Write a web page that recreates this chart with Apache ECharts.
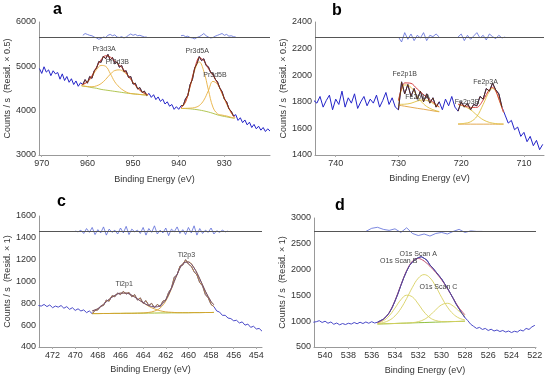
<!DOCTYPE html>
<html><head><meta charset="utf-8">
<script src="https://cdn.jsdelivr.net/npm/echarts@6/dist/echarts.min.js"></script>
<style>html,body{margin:0;padding:0;background:#fff}#c{width:550px;height:378px}</style>
</head><body><div id="c"></div>
<script>
// ================= DATA =================
// ---- Panel a : Pr 3d ----
const aRawStart = 970.5, aRawStep = 0.5;
const aRaw = [
4950, 4840, 4990, 4870, 4920, 4790, 4900, 4830, 4860, 4710,
4830, 4680, 4770, 4640, 4720, 4590, 4670, 4550, 4630, 4590,
4700, 4620, 4770, 4730, 4900, 4960, 5110, 5090, 5230, 5170,
5270, 5140, 5200, 5060, 5100, 4980, 5020, 4880, 4900, 4750,
4770, 4600, 4620, 4490, 4520, 4410, 4440, 4340, 4390, 4300,
4360, 4250, 4310, 4210, 4260, 4150, 4200, 4100, 4140, 4030,
4090, 4030, 4110, 4120, 4270, 4340, 4590, 4700, 4960, 5060,
5220, 5130, 5170, 5020, 4990, 4860, 4840, 4710, 4650, 4510,
4430, 4260, 4200, 4040, 3990, 3880, 3910, 3780, 3840, 3730,
3790, 3680, 3740, 3620, 3690, 3590, 3650, 3560, 3620, 3530,
3590, 3540];
const aFitRanges = [[961.25, 946.75], [939.5, 927.75]];
const aFit1E    = [961.25, 960, 959, 958, 957, 956, 955, 954, 953, 952, 951, 950, 949, 948, 946.75];
const aFit1Base = [4560, 4540, 4520, 4505, 4480, 4465, 4450, 4435, 4420, 4405, 4390, 4380, 4370, 4360, 4350];
const aPr3d3A   = [4580, 4645, 4770, 4925, 5020, 5000, 4840, 4650, 4530, 4450, 4400, 4380, 4370, 4360, 4350];
const aPr3d3B   = [4560, 4545, 4540, 4560, 4610, 4705, 4820, 4905, 4920, 4875, 4770, 4640, 4510, 4420, 4360];
const aFit1Env  = [4580, 4650, 4790, 4980, 5150, 5240, 5210, 5120, 5030, 4920, 4780, 4640, 4510, 4420, 4360];
const aFit2E    = [939.5, 938.5, 937.5, 936.5, 935.5, 934.5, 933.5, 932.5, 931.5, 930.5, 929.5, 928.5, 927.75];
const aFit2Base = [4050, 4048, 4042, 4030, 4015, 3995, 3970, 3940, 3905, 3880, 3860, 3840, 3830];
const aPr3d5A   = [4060, 4195, 4535, 4910, 5100, 4890, 4470, 4080, 3930, 3900, 3880, 3850, 3830];
const aPr3d5B   = [4050, 4053, 4057, 4070, 4115, 4235, 4450, 4660, 4595, 4380, 4150, 3950, 3850];
const aFit2Env  = [4060, 4200, 4550, 4950, 5200, 5130, 4950, 4800, 4620, 4400, 4170, 3960, 3850];
const aResBase = 5662;
const aRes1Start = 961.0, aRes1Step = 0.5;
const aRes1 = [5700, 5740, 5720, 5700, 5690, 5660, 5640, 5610, 5630, 5660,
               5650, 5700, 5720, 5690, 5710, 5660, 5650, 5670, 5640, 5660,
               5700, 5730, 5700, 5720, 5690, 5700, 5680, 5660, 5662];
const aRes2Start = 939.5, aRes2Step = 0.5;
const aRes2 = [5690, 5700, 5670, 5680, 5650, 5640, 5620, 5650, 5670, 5700,
               5740, 5690, 5660, 5640, 5650, 5680, 5700, 5720, 5740, 5700,
               5720, 5680, 5690, 5670, 5662];

// ---- Panel b : Fe 2p ----
const bRawStart = 743.5, bRawStep = 0.5;
const bRaw = [1810,
1790, 1840, 1760, 1810, 1850, 1740, 1820, 1780, 1880, 1760,
1830, 1790, 1860, 1750, 1800, 1840, 1770, 1820, 1790, 1850,
1760, 1810, 1870, 1780, 1830, 1760, 1740, 1950, 1860, 1930,
1840, 1900, 1820, 1880, 1800, 1860, 1790, 1830, 1760, 1800,
1740, 1820, 1770, 1840, 1760, 1730, 1800, 1760, 1790, 1740,
1780, 1770, 1840, 1820, 1900, 1880, 1940, 1890, 1860, 1760,
1700, 1640, 1660, 1590, 1610, 1540, 1570, 1500, 1540, 1470,
1510, 1440, 1480];
const bFitRanges = [[730, 723.5], [720.5, 713.25]];
const bFit1E    = [730, 729.5, 729, 728, 727, 726, 725, 724, 723.5];
const bFit1Base = [1775, 1771, 1767, 1759, 1751, 1744, 1736, 1728, 1725];
const bFe2p1B   = [1805, 1891, 1927, 1909, 1841, 1784, 1751, 1733, 1727];
const bFe2p1A   = [1780, 1781, 1782, 1789, 1806, 1814, 1801, 1773, 1760];
const bFit1Env  = [1810, 1901, 1942, 1939, 1896, 1854, 1816, 1778, 1762];
const bFit2E    = [720.5, 719.5, 718.5, 717.5, 716.5, 715.5, 715, 714.5, 714, 713.25];
const bFit2Base = [1632, 1632, 1632, 1632, 1632, 1632, 1632, 1632, 1632, 1632];
const bFe2p3B   = [1780, 1765, 1740, 1700, 1665, 1645, 1640, 1636, 1634, 1633];
const bFe2p3A   = [1634, 1638, 1650, 1690, 1780, 1880, 1900, 1880, 1820, 1720];
const bFit2Env  = [1782, 1771, 1758, 1758, 1813, 1893, 1908, 1884, 1822, 1721];
const bResBase = 2287;
const bRes1Start = 730, bRes1Step = 0.5;
const bRes1 = [2287, 2250, 2320, 2270, 2310, 2260, 2300, 2280, 2320, 2260, 2300, 2290, 2310, 2287];
const bRes2Start = 720.5, bRes2Step = 0.5;
const bRes2 = [2287, 2310, 2260, 2300, 2270, 2295, 2320, 2280, 2300, 2265, 2310, 2290, 2275, 2300, 2280, 2287];

// ---- Panel c : Ti 2p ----
const cRawStart = 473.25, cRawStep = 0.25;
const cRaw = [780,
775, 790, 770, 785, 760, 775, 765, 780, 755, 770,
745, 760, 735, 750, 730, 740, 715, 730, 705, 735,
740, 775, 780, 830, 820, 870, 860, 895, 880, 910,
885, 900, 860, 880, 830, 850, 800, 825, 780, 800,
760, 790, 770, 820, 830, 900, 940, 1040, 1060, 1140,
1150, 1200, 1160, 1140, 1090, 1060, 990, 960, 880, 850,
790, 770, 730, 720, 690, 690, 665, 660, 640, 645,
620, 630, 600, 610, 580, 590, 565, 570, 545];
const cFitRanges = [[468.5, 457.75]];
const cFitE    = [468.5, 468, 467.5, 467, 466.5, 466, 465.5, 465, 464.5, 464, 463.5, 463, 462.5, 462, 461.5, 461, 460.5, 460, 459.5, 459, 458.5, 458, 457.75];
const cFitBase = [706, 706, 707, 707, 708, 708, 709, 709, 710, 710, 711, 711, 712, 712, 713, 713, 714, 714, 715, 715, 716, 716, 717];
const cTi2p1   = [731, 751, 792, 837, 873, 893, 894, 874, 840, 805, 773, 749, 732, 722, 718, 715, 714, 714, 715, 715, 716, 716, 717];
const cTi2p3   = [706, 706, 707, 707, 708, 708, 709, 709, 710, 712, 717, 729, 757, 822, 933, 1063, 1164, 1179, 1125, 1025, 911, 816, 787];
const cFitEnv  = [731, 751, 792, 837, 873, 893, 894, 874, 840, 807, 779, 767, 777, 832, 938, 1065, 1164, 1179, 1125, 1025, 911, 816, 787];
const cResBase = 1462;
const cResStart = 470, cResStep = 0.25;
const cRes = [1462, 1455, 1470, 1440, 1485, 1450, 1495, 1430, 1475, 1445,
              1500, 1425, 1480, 1450, 1470, 1435, 1490, 1445, 1505, 1430,
              1480, 1455, 1470, 1440, 1495, 1425, 1485, 1450, 1510, 1435,
              1470, 1445, 1490, 1420, 1480, 1455, 1500, 1440, 1475, 1430,
              1495, 1445, 1510, 1425, 1485, 1440, 1470, 1450, 1490, 1435,
              1465, 1450, 1470, 1455, 1462];

// ---- Panel d : O 1s ----
const dRawStart = 541.0, dRawStep = 0.25;
const dRaw = [
980, 990, 1010, 975, 1000, 960, 985, 940, 965, 930,
955, 935, 960, 945, 975, 950, 980, 955, 985, 960,
990, 965, 980, 1010, 1040, 1090, 1160, 1260, 1390, 1530,
1690, 1840, 1970, 2080, 2150, 2200, 2230, 2250, 2220, 2180,
2090, 2030, 1960, 1890, 1820, 1730, 1640, 1540, 1440, 1330,
1240, 1150, 1070, 1010, 940, 900, 860, 880, 840, 860,
820, 845, 810, 830, 800, 820, 790, 810, 780, 805,
790, 830, 810, 860, 840, 890, 920];
const dFitRanges = [[535.5, 528]];
const dFitE    = [535.5, 535, 534.5, 534, 533.5, 533, 532.5, 532, 531.5, 531, 530.5, 530, 529.5, 529, 528.5, 528];
const dFitBase = [945, 949, 952, 956, 960, 963, 967, 971, 974, 978, 982, 985, 989, 993, 996, 1000];
const dO1sA    = [953, 974, 1016, 1102, 1244, 1440, 1658, 1834, 1903, 1841, 1673, 1462, 1273, 1139, 1060, 1025];
const dO1sB    = [964, 1009, 1103, 1254, 1415, 1504, 1469, 1334, 1178, 1067, 1013, 994, 991, 993, 996, 1000];
const dO1sC    = [945, 949, 952, 956, 960, 964, 972, 991, 1033, 1113, 1222, 1317, 1347, 1293, 1193, 1100];
const dFitEnv  = [972, 1034, 1167, 1400, 1699, 1982, 2165, 2217, 2166, 2065, 1944, 1803, 1633, 1439, 1257, 1125];
const dResBase = 2740;
const dResStart = 536.5, dResStep = 0.5;
const dRes = [2740, 2800, 2820, 2780, 2760, 2790, 2720, 2810, 2700, 2660,
              2690, 2650, 2700, 2720, 2690, 2740, 2780, 2720, 2750, 2740, 2740];

// ================= CHART =================
const FONT = 'Arial, "Liberation Sans", sans-serif';
function seq(start, step, vals) { return vals.map((v, i) => [Math.round((start - i * step) * 1000) / 1000, v]); }
function zip(E, V) { return E.map((e, i) => [e, V[i]]); }
function clipTo(data, ranges) {
  return data.map(p => ranges.some(r => p[0] <= r[0] && p[0] >= r[1]) ? p : [p[0], '-']);
}
const series = [];
function line(gi, data, color, width, extra) {
  series.push(Object.assign({
    type: 'line', xAxisIndex: gi, yAxisIndex: gi, data: data, showSymbol: false, symbol: 'none',
    lineStyle: { color: color, width: width }, itemStyle: { color: color }, silent: true, animation: false
  }, extra || {}));
}
function comp(gi, E, V, name, color, off) {
  line(gi, zip(E, V), color, 0.9, {
    name: name, smooth: 0.4,
    markPoint: {
      symbol: 'circle', symbolSize: 0, silent: true, animation: false, data: [{ type: 'max' }],
      label: { show: true, position: 'inside', formatter: name, offset: off, fontSize: 7, color: '#444', fontFamily: FONT }
    }
  });
}
function resid(gi, data, base, withLine) {
  const extra = {};
  if (withLine) extra.markLine = {
    silent: true, symbol: 'none', animation: false, label: { show: false },
    lineStyle: { color: '#555', width: 1, type: 'solid' }, data: [{ yAxis: base }]
  };
  line(gi, data, '#5a6ad8', 0.8, extra);
}

// Panel a (0)
line(0, seq(aRawStart, aRawStep, aRaw), '#2323c8', 1);
line(0, zip(aFit1E, aFit1Base), '#a8c040', 0.9, { smooth: 0.3 });
line(0, zip(aFit2E, aFit2Base), '#a8c040', 0.9, { smooth: 0.3 });
comp(0, aFit1E, aPr3d3A, 'Pr3d3A', '#e8b040', [3, -16]);
comp(0, aFit1E, aPr3d3B, 'Pr3d3B', '#e8b040', [-2, -8]);
comp(0, aFit2E, aPr3d5A, 'Pr3d5A', '#e8b040', [-2, -11]);
comp(0, aFit2E, aPr3d5B, 'Pr3d5B', '#e8b040', [2, -6]);
line(0, zip(aFit1E, aFit1Env), '#d84040', 1, { smooth: 0.3 });
line(0, zip(aFit2E, aFit2Env), '#d84040', 1, { smooth: 0.3 });
line(0, clipTo(seq(aRawStart, aRawStep, aRaw), aFitRanges), '#6a3818', 1);
resid(0, seq(aRes1Start, aRes1Step, aRes1), aResBase, true);
resid(0, seq(aRes2Start, aRes2Step, aRes2), aResBase, false);

// Panel b (1)
line(1, seq(bRawStart, bRawStep, bRaw), '#2323c8', 1);
line(1, zip(bFit1E, bFit1Base), '#e0a040', 0.9);
line(1, zip(bFit2E, bFit2Base), '#e0a040', 0.9);
comp(1, bFit1E, bFe2p1B, 'Fe2p1B', '#e0c040', [0, -11]);
comp(1, bFit1E, bFe2p1A, 'Fe2p1A', '#e0c040', [-6, -3]);
comp(1, bFit2E, bFe2p3B, 'Fe2p3B', '#e0c040', [9, -2]);
comp(1, bFit2E, bFe2p3A, 'Fe2p3A', '#e0c040', [-7, -6]);
line(1, zip(bFit1E, bFit1Env), '#d84040', 1, { smooth: 0.3 });
line(1, zip(bFit2E, bFit2Env), '#d84040', 1, { smooth: 0.3 });
line(1, clipTo(seq(bRawStart, bRawStep, bRaw), bFitRanges), '#5a3010', 1);
resid(1, seq(bRes1Start, bRes1Step, bRes1), bResBase, true);
resid(1, seq(bRes2Start, bRes2Step, bRes2), bResBase, false);

// Panel c (2)
line(2, seq(cRawStart, cRawStep, cRaw), '#4a4ac8', 1);
line(2, zip(cFitE, cFitBase), '#a8c030', 1);
comp(2, cFitE, cTi2p1, 'Ti2p1', '#d8a030', [-2, -9]);
comp(2, cFitE, cTi2p3, 'Ti2p3', '#d8a030', [-2, -7]);
line(2, clipTo(seq(cRawStart, cRawStep, cRaw), cFitRanges), '#b08040', 1);
line(2, zip(cFitE, cFitEnv), '#6a4a7a', 1, { smooth: 0.3 });
resid(2, seq(cResStart, cResStep, cRes), cResBase, true);

// Panel d (3)
line(3, seq(dRawStart, dRawStep, dRaw), '#4a4ac8', 1);
line(3, zip(dFitE, dFitBase), '#90c040', 1);
comp(3, dFitE, dO1sA, 'O1s Scan A', '#d8d060', [-6, -21]);
comp(3, dFitE, dO1sB, 'O1s Scan B', '#d8d060', [-8, -34]);
comp(3, dFitE, dO1sC, 'O1s Scan C', '#d8d060', [-9, -16]);
line(3, zip(dFitE, dFitEnv), '#c05070', 1, { smooth: 0.3 });
line(3, clipTo(seq(dRawStart, dRawStep, dRaw), dFitRanges), '#50489a', 1);
resid(3, seq(dResStart, dResStep, dRes), dResBase, true);

const plain = v => String(v);
function xAx(gi, min, max, split, gap) {
  return {
    gridIndex: gi, type: 'value', inverse: true, min: min, max: max, splitNumber: split,
    name: 'Binding Energy (eV)', nameLocation: 'middle', nameGap: gap,
    nameTextStyle: { fontSize: 9, color: '#333', fontFamily: FONT },
    axisLine: { show: true, onZero: false, lineStyle: { color: '#999' } },
    axisTick: { show: true, length: 2, lineStyle: { color: '#aaa' } },
    splitLine: { show: false },
    axisLabel: { fontSize: 9, color: '#333', margin: 4, fontFamily: FONT, showMinLabel: false, showMaxLabel: false, formatter: plain }
  };
}
function yAx(gi, min, max, interval, name, gap) {
  return {
    gridIndex: gi, type: 'value', min: min, max: max, interval: interval,
    name: name, nameLocation: 'middle', nameGap: gap,
    nameTextStyle: { fontSize: 9, color: '#333', fontFamily: FONT },
    axisLine: { show: true, lineStyle: { color: '#999' } },
    axisTick: { show: false },
    splitLine: { show: false },
    axisLabel: { fontSize: 9, color: '#333', margin: 3, fontFamily: FONT, formatter: plain }
  };
}

const chart = echarts.init(document.getElementById('c'), null, { renderer: 'canvas' });
chart.setOption({
  animation: false,
  backgroundColor: '#fff',
  textStyle: { fontFamily: FONT },
  grid: [
    { left: 39, top: 22, width: 231, height: 133 },
    { left: 315, top: 22, width: 229, height: 133 },
    { left: 39, top: 216, width: 223, height: 131 },
    { left: 314, top: 218, width: 222, height: 129 }
  ],
  xAxis: [xAx(0, 920, 970.6, 5, 20), xAx(1, 706.8, 743.3, 4, 19), xAx(2, 453.5, 473.2, 10, 18), xAx(3, 521.9, 540.95, 10, 19)],
  yAxis: [
    yAx(0, 3000, 6000, 1000, 'Counts / s  (Resid. × 0.5)', 26),
    yAx(1, 1400, 2400, 200, 'Counts / s  (Resid. × 0.5)', 25),
    yAx(2, 400, 1600, 200, 'Counts / s  (Resid. × 1)', 27),
    yAx(3, 500, 3000, 500, 'Counts / s  (Resid. × 1)', 24)
  ],
  graphic: [
    { type: 'text', left: 53, top: 2, style: { text: 'a', font: 'bold 16px Arial, "Liberation Sans", sans-serif', fill: '#000' } },
    { type: 'text', left: 332, top: 3, style: { text: 'b', font: 'bold 16px Arial, "Liberation Sans", sans-serif', fill: '#000' } },
    { type: 'text', left: 57, top: 194, style: { text: 'c', font: 'bold 16px Arial, "Liberation Sans", sans-serif', fill: '#000' } },
    { type: 'text', left: 335, top: 198, style: { text: 'd', font: 'bold 16px Arial, "Liberation Sans", sans-serif', fill: '#000' } }
  ],
  series: series
});
</script></body></html>
